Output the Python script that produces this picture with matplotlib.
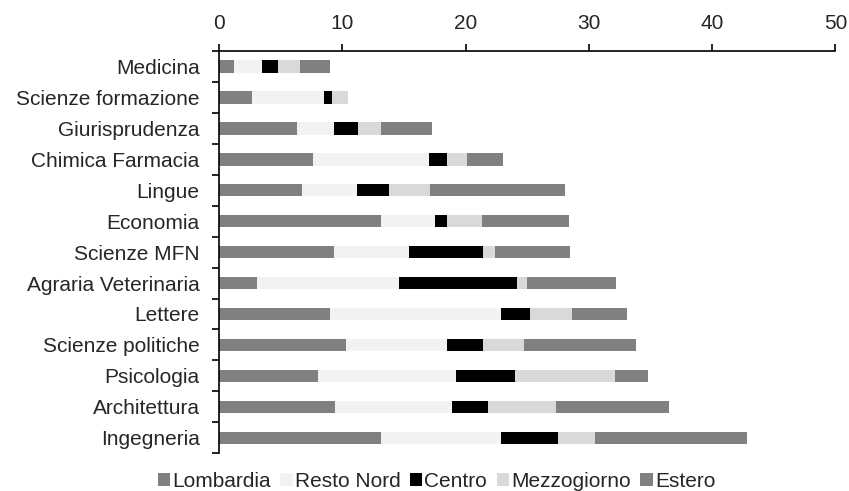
import matplotlib.pyplot as plt
import numpy as np

# faculties, top to bottom
facolta = ['Medicina', 'Scienze formazione', 'Giurisprudenza', 'Chimica Farmacia',
           'Lingue', 'Economia', 'Scienze MFN', 'Agraria Veterinaria', 'Lettere',
           'Scienze politiche', 'Psicologia', 'Architettura', 'Ingegneria']

# values per origin
lombardia   = [1.2, 2.7, 6.3, 7.6, 6.7, 13.1, 9.3, 3.1, 9.0, 10.3, 8.0, 9.4, 13.1]
resto_nord  = [2.3, 5.8, 3.0, 9.4, 4.5, 4.4, 6.1, 11.5, 13.9, 8.2, 11.2, 9.5, 9.8]
centro      = [1.3, 0.7, 2.0, 1.5, 2.6, 1.0, 6.0, 9.6, 2.3, 2.9, 4.8, 2.9, 4.6]
mezzogiorno = [1.8, 1.3, 1.8, 1.6, 3.3, 2.8, 1.0, 0.8, 3.4, 3.3, 8.1, 5.5, 3.0]
estero      = [2.4, 0.0, 4.2, 2.9, 11.0, 7.1, 6.1, 7.2, 4.5, 9.1, 2.7, 9.2, 12.3]

serie = ['Lombardia', 'Resto Nord', 'Centro', 'Mezzogiorno', 'Estero']
valori = [lombardia, resto_nord, centro, mezzogiorno, estero]
colori = ['#808080', '#f2f2f2', '#000000', '#d9d9d9', '#808080']

plt.rcParams['font.family'] = ['Liberation Sans', 'DejaVu Sans']

fig = plt.figure(figsize=(8.49, 4.91), dpi=100)
ax = fig.add_axes([0.258, 0.077, 0.726, 0.819])

y = np.arange(len(facolta))
left = np.zeros(len(facolta))
for nome, v, c in zip(serie, valori, colori):
    ax.barh(y, v, left=left, height=0.4, color=c, label=nome)
    left += np.array(v)

ax.set_xlim(0, 50)
ax.set_ylim(len(facolta) - 0.5, -0.5)
ax.set_xticks(np.arange(0, 51, 10))
ax.xaxis.tick_top()

# category labels centred, ticks on boundaries
ax.set_yticks(y)
ax.set_yticklabels(facolta)
ax.set_yticks(np.arange(-0.5, len(facolta), 1), minor=True)
ax.tick_params(axis='y', which='major', length=0, pad=14, labelsize=15, labelcolor='#262626')
ax.tick_params(axis='y', which='minor', length=5, width=1.2, direction='out')
ax.tick_params(axis='x', length=5, width=1.2, pad=8, labelsize=15, labelcolor='#262626')

for s in ['right', 'bottom']:
    ax.spines[s].set_visible(False)
for s in ['top', 'left']:
    ax.spines[s].set_linewidth(1.2)

fig.legend(loc='center', bbox_to_anchor=(0.514, 0.02), ncol=5, frameon=False,
           fontsize=15, handlelength=0.6, handleheight=0.6, handletextpad=0.1,
           columnspacing=0.45, labelcolor='#262626')

fig.savefig('out.png', dpi=100)
